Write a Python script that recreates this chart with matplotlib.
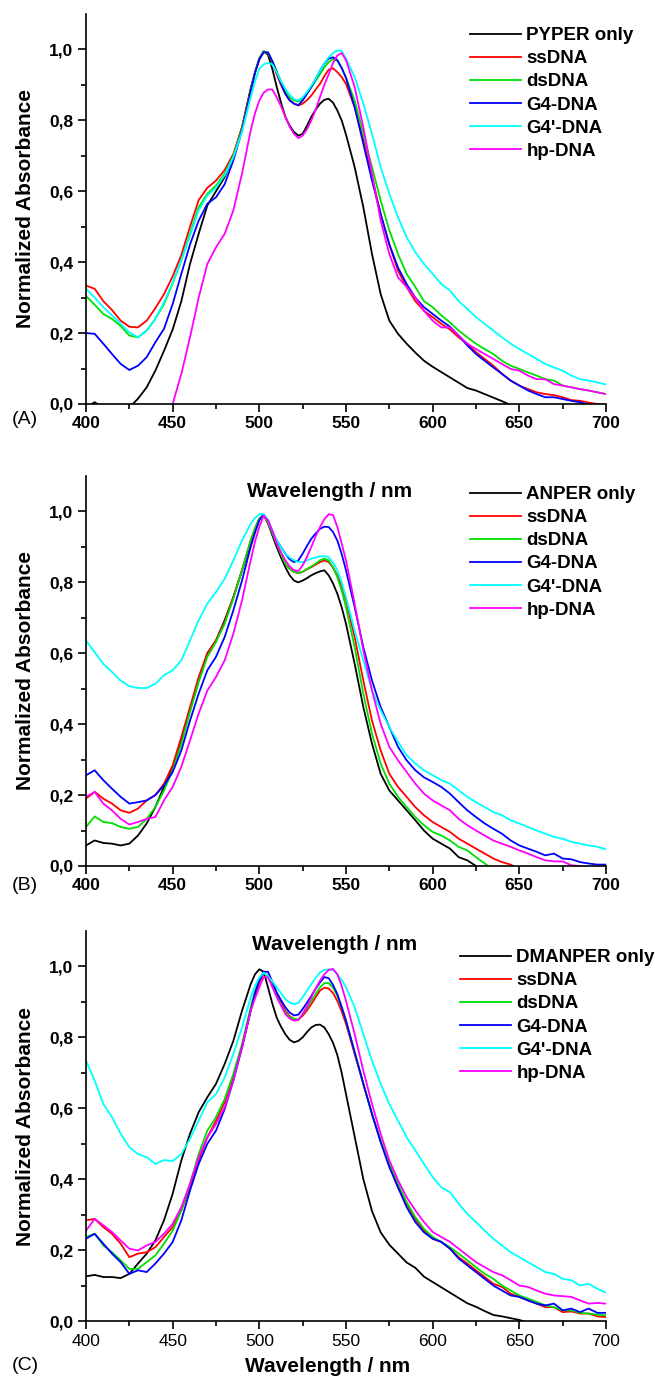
import matplotlib
matplotlib.use("Agg")
import matplotlib.pyplot as plt

plt.rcParams['font.family'] = ['Liberation Sans', 'DejaVu Sans']

# ---------------- data ----------------
# wavelength grid (nm): 5 nm steps, 2.5 nm steps across the two peaks
wavelength = (list(range(400, 495, 5))
              + [495 + 2.5 * k for k in range(23)]
              + list(range(555, 705, 5)))

series_names_A = ["PYPER only", "ssDNA", "dsDNA", "G4-DNA", "G4'-DNA", "hp-DNA"]
series_names_B = ["ANPER only", "ssDNA", "dsDNA", "G4-DNA", "G4'-DNA", "hp-DNA"]
series_names_C = ["DMANPER only", "ssDNA", "dsDNA", "G4-DNA", "G4'-DNA", "hp-DNA"]
colors = ["#000000", "#ff0000", "#00e000", "#0000ff", "#00ffff", "#ff00ff"]

# ---- Panel A ----
A_only = [-0.01, 0.005, -0.01, -0.02, -0.03, -0.01, 0.015, 0.047, 0.094, 0.15, 0.21, 0.29, 0.395, 0.48, 0.56, 0.60, 0.64, 0.70, 0.78,
          0.89, 0.935, 0.975, 0.995, 0.985, 0.945, 0.895, 0.85, 0.81, 0.785, 0.767, 0.757, 0.762, 0.785, 0.81, 0.83, 0.847, 0.858, 0.861, 0.85, 0.828, 0.8, 0.76,
          0.668, 0.555, 0.423, 0.31, 0.235, 0.198, 0.17, 0.145, 0.122, 0.105, 0.09, 0.075, 0.06, 0.045, 0.038, 0.028, 0.018, 0.008, -0.003, -0.01,
          -0.02, -0.02, -0.02, -0.02, -0.02, -0.02, -0.02, -0.02, -0.02, -0.02]
A_ss = [0.334, 0.325, 0.29, 0.265, 0.235, 0.218, 0.216, 0.235, 0.27, 0.31, 0.36, 0.42, 0.50, 0.575, 0.61, 0.63, 0.66, 0.705, 0.78,
        0.885, 0.935, 0.972, 0.993, 0.99, 0.965, 0.93, 0.9, 0.875, 0.857, 0.847, 0.842, 0.847, 0.857, 0.87, 0.887, 0.903, 0.925, 0.943, 0.947, 0.936, 0.922, 0.903,
        0.837, 0.743, 0.64, 0.536, 0.45, 0.376, 0.33, 0.29, 0.263, 0.245, 0.226, 0.21, 0.188, 0.17, 0.146, 0.127, 0.108, 0.085, 0.066, 0.052,
        0.042, 0.033, 0.028, 0.025, 0.019, 0.011, 0.009, 0.004, 0.0, -0.002]
A_ds = [0.305, 0.28, 0.254, 0.24, 0.22, 0.193, 0.188, 0.207, 0.24, 0.282, 0.34, 0.405, 0.48, 0.555, 0.593, 0.616, 0.65, 0.70, 0.776,
        0.88, 0.935, 0.972, 0.995, 0.99, 0.967, 0.94, 0.91, 0.884, 0.865, 0.856, 0.853, 0.86, 0.876, 0.894, 0.912, 0.93, 0.95, 0.964, 0.973, 0.968, 0.948, 0.92,
        0.856, 0.762, 0.668, 0.574, 0.49, 0.423, 0.367, 0.33, 0.29, 0.273, 0.25, 0.23, 0.207, 0.188, 0.17, 0.155, 0.141, 0.122, 0.108, 0.099,
        0.089, 0.08, 0.07, 0.066, 0.052, 0.047, 0.042, 0.038, 0.033, 0.028]
A_g4 = [0.20, 0.198, 0.17, 0.141, 0.113, 0.096, 0.108, 0.132, 0.174, 0.212, 0.282, 0.367, 0.45, 0.517, 0.565, 0.583, 0.62, 0.687, 0.771,
        0.88, 0.935, 0.972, 0.992, 0.992, 0.967, 0.936, 0.905, 0.875, 0.856, 0.847, 0.843, 0.856, 0.875, 0.894, 0.917, 0.94, 0.96, 0.974, 0.978, 0.97, 0.948, 0.92,
        0.837, 0.734, 0.63, 0.536, 0.45, 0.385, 0.338, 0.30, 0.273, 0.254, 0.235, 0.218, 0.193, 0.165, 0.141, 0.122, 0.103, 0.085, 0.066, 0.052,
        0.038, 0.028, 0.019, 0.019, 0.014, 0.009, 0.005, -0.002, -0.01, -0.01]
A_g4p = [0.325, 0.30, 0.273, 0.25, 0.226, 0.202, 0.188, 0.207, 0.24, 0.287, 0.343, 0.405, 0.475, 0.546, 0.588, 0.61, 0.645, 0.696, 0.767,
         0.865, 0.91, 0.945, 0.958, 0.962, 0.958, 0.936, 0.91, 0.889, 0.872, 0.86, 0.856, 0.865, 0.88, 0.898, 0.918, 0.94, 0.96, 0.978, 0.99, 0.997, 0.996, 0.974,
         0.922, 0.847, 0.762, 0.668, 0.593, 0.527, 0.47, 0.428, 0.395, 0.367, 0.338, 0.32, 0.29, 0.268, 0.245, 0.226, 0.207, 0.188, 0.17, 0.155,
         0.141, 0.127, 0.113, 0.103, 0.094, 0.08, 0.07, 0.066, 0.061, 0.055]
A_hp = [-0.3, -0.28, -0.26, -0.24, -0.22, -0.2, -0.17, -0.13, -0.09, -0.045, 0.0, 0.085, 0.188, 0.30, 0.395, 0.442, 0.48, 0.546, 0.65,
        0.771, 0.82, 0.856, 0.878, 0.887, 0.887, 0.865, 0.84, 0.81, 0.782, 0.762, 0.75, 0.757, 0.775, 0.80, 0.83, 0.866, 0.9, 0.93, 0.962, 0.983, 0.99, 0.97,
        0.894, 0.78, 0.65, 0.517, 0.423, 0.357, 0.33, 0.30, 0.263, 0.235, 0.216, 0.216, 0.193, 0.17, 0.155, 0.141, 0.127, 0.113, 0.099, 0.094,
        0.08, 0.07, 0.07, 0.056, 0.052, 0.047, 0.042, 0.038, 0.033, 0.028]

# ---- Panel B ----
B_only = [0.058, 0.072, 0.065, 0.063, 0.058, 0.063, 0.086, 0.12, 0.166, 0.223, 0.28, 0.354, 0.44, 0.523, 0.60, 0.636, 0.693, 0.758, 0.834,
          0.909, 0.945, 0.98, 0.99, 0.966, 0.933, 0.90, 0.87, 0.843, 0.82, 0.805, 0.8, 0.805, 0.812, 0.82, 0.826, 0.831, 0.834, 0.82, 0.797, 0.768, 0.73, 0.683,
          0.57, 0.448, 0.345, 0.26, 0.213, 0.185, 0.157, 0.129, 0.10, 0.077, 0.063, 0.049, 0.025, 0.016, 0.0, -0.02, -0.03, -0.03, -0.03, -0.03,
          -0.03, -0.03, -0.03, -0.03, -0.03, -0.03, -0.03, -0.03, -0.03, -0.03]
B_ss = [0.19, 0.209, 0.19, 0.176, 0.157, 0.15, 0.162, 0.185, 0.20, 0.232, 0.284, 0.364, 0.448, 0.533, 0.60, 0.636, 0.688, 0.758, 0.834,
        0.918, 0.952, 0.98, 0.99, 0.97, 0.94, 0.91, 0.88, 0.853, 0.838, 0.83, 0.826, 0.83, 0.837, 0.843, 0.85, 0.857, 0.862, 0.857, 0.842, 0.82, 0.79, 0.75,
        0.645, 0.523, 0.41, 0.326, 0.26, 0.223, 0.195, 0.166, 0.143, 0.124, 0.11, 0.096, 0.077, 0.063, 0.049, 0.035, 0.021, 0.011, 0.004, -0.01,
        -0.02, -0.02, -0.02, -0.02, -0.02, -0.02, -0.02, -0.02, -0.02, -0.02]
B_ds = [0.11, 0.14, 0.124, 0.121, 0.11, 0.105, 0.11, 0.133, 0.166, 0.213, 0.27, 0.345, 0.434, 0.519, 0.59, 0.632, 0.683, 0.754, 0.834,
        0.918, 0.952, 0.98, 0.99, 0.97, 0.94, 0.91, 0.88, 0.853, 0.838, 0.83, 0.826, 0.83, 0.838, 0.845, 0.853, 0.862, 0.867, 0.862, 0.843, 0.815, 0.777, 0.73,
        0.617, 0.486, 0.373, 0.289, 0.232, 0.195, 0.166, 0.138, 0.115, 0.096, 0.086, 0.072, 0.054, 0.044, 0.025, 0.007, -0.01, -0.02, -0.02, -0.02,
        -0.02, -0.02, -0.02, -0.02, -0.02, -0.02, -0.02, -0.02, -0.02, -0.02]
B_g4 = [0.256, 0.27, 0.242, 0.218, 0.195, 0.176, 0.18, 0.185, 0.20, 0.227, 0.265, 0.326, 0.41, 0.486, 0.552, 0.59, 0.646, 0.721, 0.805,
        0.90, 0.94, 0.975, 0.99, 0.975, 0.945, 0.918, 0.9, 0.881, 0.865, 0.857, 0.862, 0.881, 0.903, 0.923, 0.938, 0.951, 0.957, 0.956, 0.942, 0.918, 0.88, 0.834,
        0.73, 0.617, 0.523, 0.448, 0.392, 0.336, 0.298, 0.27, 0.25, 0.237, 0.223, 0.204, 0.18, 0.157, 0.138, 0.12, 0.105, 0.091, 0.072, 0.058,
        0.049, 0.04, 0.03, 0.035, 0.021, 0.019, 0.011, 0.007, 0.004, 0.004]
B_g4p = [0.636, 0.603, 0.57, 0.547, 0.523, 0.507, 0.502, 0.502, 0.514, 0.538, 0.552, 0.58, 0.636, 0.693, 0.74, 0.773, 0.81, 0.862, 0.918,
         0.965, 0.982, 0.992, 0.993, 0.975, 0.945, 0.918, 0.9, 0.881, 0.87, 0.862, 0.858, 0.857, 0.862, 0.867, 0.87, 0.873, 0.874, 0.871, 0.856, 0.834, 0.8, 0.758,
         0.664, 0.58, 0.495, 0.439, 0.392, 0.35, 0.312, 0.289, 0.27, 0.256, 0.242, 0.232, 0.213, 0.195, 0.18, 0.166, 0.152, 0.143, 0.129, 0.12,
         0.11, 0.10, 0.091, 0.082, 0.077, 0.068, 0.063, 0.058, 0.054, 0.047]
B_hp = [0.195, 0.209, 0.176, 0.157, 0.133, 0.117, 0.124, 0.133, 0.138, 0.185, 0.223, 0.28, 0.354, 0.43, 0.495, 0.533, 0.58, 0.655, 0.749,
        0.862, 0.915, 0.956, 0.988, 0.975, 0.945, 0.91, 0.885, 0.862, 0.845, 0.834, 0.832, 0.848, 0.872, 0.90, 0.93, 0.956, 0.978, 0.992, 0.99, 0.956, 0.91, 0.862,
        0.74, 0.608, 0.495, 0.401, 0.336, 0.298, 0.265, 0.232, 0.204, 0.185, 0.171, 0.157, 0.133, 0.115, 0.10, 0.086, 0.072, 0.063, 0.054, 0.044,
        0.035, 0.025, 0.016, 0.013, 0.013, 0.002, 0.0, -0.01, -0.01, -0.01]

# ---- Panel C ----
C_only = [0.126, 0.13, 0.124, 0.124, 0.121, 0.133, 0.162, 0.19, 0.227, 0.284, 0.359, 0.453, 0.528, 0.589, 0.631, 0.669, 0.725, 0.79, 0.875,
          0.95, 0.978, 0.992, 0.985, 0.941, 0.895, 0.856, 0.83, 0.809, 0.793, 0.786, 0.79, 0.80, 0.815, 0.828, 0.835, 0.836, 0.828, 0.809, 0.785, 0.75, 0.70, 0.64,
          0.52, 0.40, 0.31, 0.25, 0.215, 0.19, 0.165, 0.15, 0.125, 0.11, 0.095, 0.08, 0.065, 0.05, 0.04, 0.028, 0.017, 0.013, 0.008, 0.003,
          -0.005, -0.01, -0.01, -0.01, -0.01, -0.01, -0.01, -0.01, -0.01, -0.01]
C_ss = [0.284, 0.288, 0.265, 0.246, 0.218, 0.18, 0.19, 0.194, 0.208, 0.237, 0.265, 0.312, 0.377, 0.453, 0.518, 0.565, 0.617, 0.687, 0.772,
        0.875, 0.92, 0.955, 0.98, 0.973, 0.948, 0.922, 0.897, 0.875, 0.86, 0.852, 0.85, 0.861, 0.876, 0.894, 0.913, 0.932, 0.94, 0.938, 0.925, 0.903, 0.873, 0.838,
        0.753, 0.669, 0.584, 0.509, 0.443, 0.377, 0.331, 0.288, 0.255, 0.232, 0.223, 0.204, 0.18, 0.162, 0.143, 0.124, 0.105, 0.096, 0.077, 0.068,
        0.058, 0.049, 0.039, 0.039, 0.025, 0.027, 0.021, 0.021, 0.013, 0.011]
C_ds = [0.237, 0.246, 0.213, 0.194, 0.171, 0.147, 0.147, 0.166, 0.185, 0.218, 0.255, 0.312, 0.387, 0.471, 0.537, 0.575, 0.626, 0.697, 0.781,
        0.885, 0.93, 0.962, 0.982, 0.973, 0.945, 0.917, 0.892, 0.87, 0.857, 0.852, 0.85, 0.866, 0.884, 0.903, 0.922, 0.941, 0.953, 0.953, 0.94, 0.917, 0.885, 0.847,
        0.758, 0.669, 0.584, 0.509, 0.443, 0.387, 0.335, 0.293, 0.26, 0.237, 0.223, 0.208, 0.19, 0.171, 0.152, 0.133, 0.119, 0.10, 0.086, 0.072,
        0.063, 0.054, 0.044, 0.039, 0.03, 0.03, 0.023, 0.021, 0.018, 0.016]
C_g4 = [0.232, 0.246, 0.218, 0.19, 0.166, 0.133, 0.143, 0.138, 0.162, 0.19, 0.223, 0.284, 0.368, 0.443, 0.50, 0.537, 0.598, 0.678, 0.772,
        0.875, 0.925, 0.96, 0.985, 0.985, 0.957, 0.927, 0.905, 0.885, 0.87, 0.862, 0.864, 0.88, 0.898, 0.917, 0.937, 0.955, 0.97, 0.967, 0.948, 0.922, 0.886, 0.847,
        0.758, 0.669, 0.584, 0.504, 0.434, 0.377, 0.321, 0.279, 0.25, 0.232, 0.223, 0.204, 0.176, 0.157, 0.138, 0.119, 0.10, 0.086, 0.072, 0.068,
        0.058, 0.049, 0.044, 0.049, 0.03, 0.035, 0.025, 0.035, 0.023, 0.023]
C_g4p = [0.734, 0.678, 0.612, 0.575, 0.528, 0.49, 0.471, 0.462, 0.443, 0.454, 0.451, 0.471, 0.514, 0.565, 0.617, 0.64, 0.687, 0.753, 0.828,
         0.913, 0.945, 0.969, 0.982, 0.973, 0.958, 0.941, 0.925, 0.908, 0.898, 0.894, 0.897, 0.913, 0.932, 0.95, 0.968, 0.983, 0.99, 0.992, 0.99, 0.978, 0.962, 0.941,
         0.885, 0.809, 0.734, 0.669, 0.612, 0.565, 0.518, 0.481, 0.443, 0.406, 0.377, 0.363, 0.331, 0.302, 0.279, 0.255, 0.232, 0.213, 0.194, 0.18,
         0.166, 0.152, 0.138, 0.133, 0.119, 0.115, 0.10, 0.105, 0.091, 0.08]
C_hp = [0.255, 0.288, 0.27, 0.251, 0.227, 0.204, 0.199, 0.213, 0.223, 0.246, 0.274, 0.321, 0.387, 0.462, 0.518, 0.556, 0.603, 0.678, 0.772,
        0.875, 0.91, 0.941, 0.97, 0.969, 0.942, 0.913, 0.89, 0.866, 0.853, 0.847, 0.849, 0.866, 0.888, 0.913, 0.938, 0.96, 0.978, 0.99, 0.993, 0.978, 0.945, 0.903,
        0.809, 0.706, 0.612, 0.528, 0.453, 0.397, 0.349, 0.312, 0.279, 0.251, 0.237, 0.223, 0.204, 0.185, 0.166, 0.152, 0.138, 0.129, 0.115, 0.10,
        0.096, 0.086, 0.077, 0.072, 0.07, 0.068, 0.058, 0.049, 0.051, 0.049]

panels = [
    ("(A)", series_names_A, [A_only, A_ss, A_ds, A_g4, A_g4p, A_hp]),
    ("(B)", series_names_B, [B_only, B_ss, B_ds, B_g4, B_g4p, B_hp]),
    ("(C)", series_names_C, [C_only, C_ss, C_ds, C_g4, C_g4p, C_hp]),
]

x_ticks = [400, 450, 500, 550, 600, 650, 700]
y_ticks = [0.0, 0.2, 0.4, 0.6, 0.8, 1.0]
y_tick_labels = ["0,0", "0,2", "0,4", "0,6", "0,8", "1,0"]

# ---------------- layout ----------------
W, H = 655, 1380
fig = plt.figure(figsize=(W / 100, H / 100), dpi=100)

ax_left, ax_right = 86, 606
ax_bottoms = [404, 866, 1321]
ax_h = 390
legend_anchor = [(470, 27), (470, 486), (460, 949)]
xlabel_top = [482, 935, 1357]
xlabel_cx = [330, 335, 328]
panel_label_y = [420, 885, 1365]
xtick_bold = [True, True, False]

for i, (plabel, names, data) in enumerate(panels):
    b = ax_bottoms[i]
    ax = fig.add_axes([ax_left / W, 1 - b / H, (ax_right - ax_left) / W, ax_h / H])
    ax.patch.set_visible(False)
    for name, vals, c in zip(names, data, colors):
        ax.plot(wavelength, vals, color=c, lw=1.3, label=name)
    ax.set_xlim(400, 700)
    ax.set_ylim(0, 1.1)
    for s in ("top", "right"):
        ax.spines[s].set_visible(False)
    for s in ("left", "bottom"):
        ax.spines[s].set_linewidth(1.2)
    ax.set_xticks(x_ticks)
    ax.set_xticks([425, 475, 525, 575, 625, 675], minor=True)
    ax.set_yticks(y_ticks)
    ax.set_yticks([0.1, 0.3, 0.5, 0.7, 0.9], minor=True)
    ax.set_yticklabels(y_tick_labels, fontsize=12.5, fontweight="bold")
    ax.set_xticklabels([str(t) for t in x_ticks], fontsize=12.5,
                       fontweight="bold" if xtick_bold[i] else "normal")
    ax.tick_params(which="major", direction="out", length=6, width=1.2, pad=3)
    ax.tick_params(which="minor", direction="out", length=3.5, width=1.2)

    ax.set_ylabel("Normalized Absorbance", fontsize=15, fontweight="bold")
    ax.yaxis.set_label_coords((35 - ax_left) / (ax_right - ax_left), 0.5)
    ax.set_xlabel("Wavelength / nm", fontsize=15, fontweight="bold")
    ax.xaxis.set_label_coords((xlabel_cx[i] - ax_left) / (ax_right - ax_left),
                              (b - xlabel_top[i]) / ax_h)

    lx, ly = legend_anchor[i]
    ax.legend(loc="upper left", bbox_to_anchor=(lx / W, 1 - ly / H),
              bbox_transform=fig.transFigure, frameon=False,
              borderpad=0, borderaxespad=0, handlelength=2.7,
              handletextpad=0.3, labelspacing=0.32,
              prop={"size": 13.5, "weight": "bold"})

    fig.text(12 / W, 1 - panel_label_y[i] / H, plabel, fontsize=14,
             ha="left", va="center")

fig.savefig("out.png", dpi=100)
